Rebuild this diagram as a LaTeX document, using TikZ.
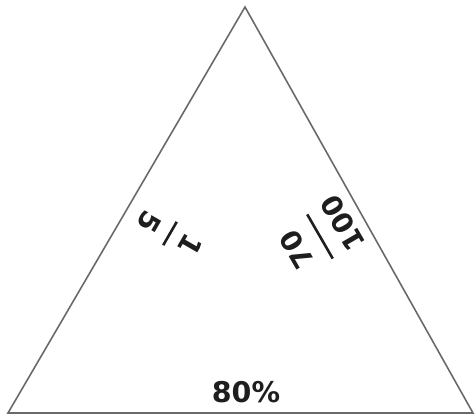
\documentclass[tikz,border=0pt]{standalone}
\usepackage{fontspec}
\setmainfont{DejaVu Sans}
\definecolor{edgegray}{HTML}{6A6A6A}
\definecolor{inkc}{HTML}{1E1E1E}
\begin{document}
\begin{tikzpicture}[x=1pt,y=-1pt,
  edge/.style={draw=edgegray,line width=1.6pt,line join=miter},
  lbl/.style={inner sep=0pt,text=inkc,font=\bfseries\fontsize{28.5}{34}\selectfont},
  digit/.style={inner sep=0pt,anchor=center,text=inkc,font=\bfseries\fontsize{28}{32}\selectfont},
  fbar/.style={draw=inkc,line width=2.6pt}]
\useasboundingbox (0,0) rectangle (475,417);
\coordinate (A) at (245,7);
\coordinate (B) at (8,413);
\coordinate (C) at (473,413);
\draw[edge] (A) -- (B) -- (C) -- cycle;
% left fraction 1/5
\begin{scope}[shift={(170,233.5)},rotate=-120,transform shape]
  \node[digit] (n1) at (0,-23.5) {1};
  \node[digit] (d1) at (0,23.5) {5};
  \coordinate (b1l) at (-13.5,0);
  \coordinate (b1r) at (13.5,0);
  \draw[fbar] (b1l) -- (b1r);
\end{scope}
% right fraction 70/100
\begin{scope}[shift={(320,236.5)},rotate=120,transform shape]
  \node[digit] (n2) at (0,-26.5) {70};
  \node[digit] (d2) at (0,26.5) {100};
  \coordinate (b2l) at (-25.5,0);
  \coordinate (b2r) at (25.5,0);
  \draw[fbar] (b2l) -- (b2r);
\end{scope}
\node[lbl] (p) at (246,392.5) {80\%};
\end{tikzpicture}
\end{document}
